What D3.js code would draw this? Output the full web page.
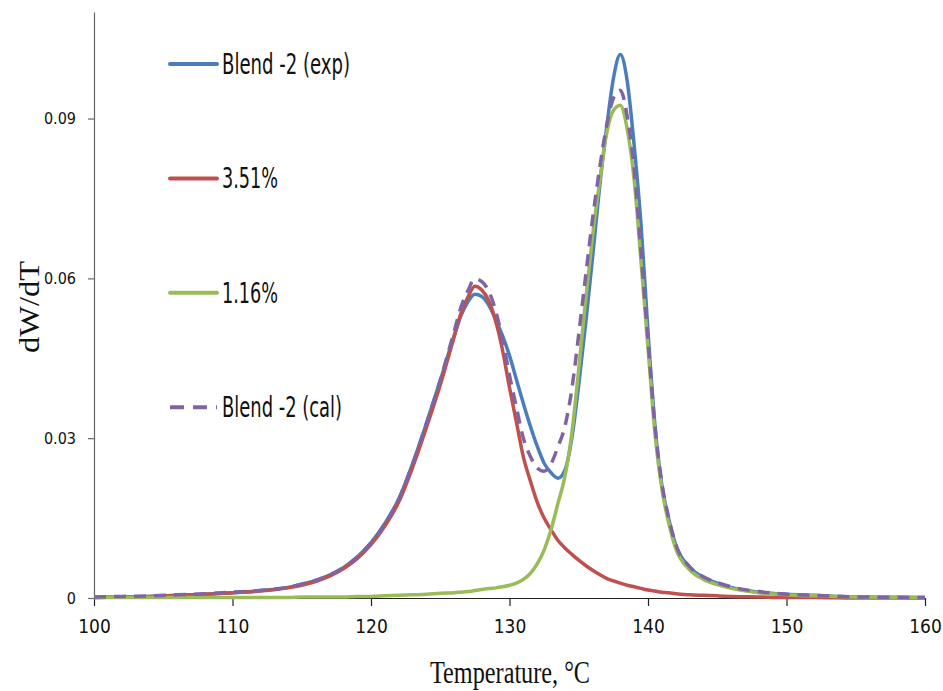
<!DOCTYPE html>
<html>
<head>
<meta charset="utf-8">
<script src="https://cdn.jsdelivr.net/npm/d3@7"></script>
<style>
  html, body { margin: 0; padding: 0; background: #fff; }
  svg { display: block; }
</style>
</head>
<body>
<svg id="chart" width="943" height="691"></svg>
<script>
// ---------- DATA ----------
const temperature = [100,102,104,106,108,110,112,114,115,116,117,118,119,120,121,122,123,124,125,126,
  126.5,127,127.5,128,128.5,129,129.5,130,130.5,131,131.5,132,132.5,133,133.5,134,134.5,135,135.5,136,
  136.5,137,137.5,138,138.5,139,139.5,140,140.5,141,141.5,142,143,144,145,146,148,150,152,155,160];

const blendExp = [0.0001,0.0002,0.0003,0.0005,0.0007,0.0010,0.0014,0.0020,
  0.0026,0.0033,0.0043,0.0057,0.0077,0.0104,0.0140,0.0186,0.0252,0.0328,0.0408,0.0492,
  0.0530,0.0556,0.0570,0.0566,0.0550,0.0523,0.0492,0.0455,0.0410,0.0365,0.0323,0.0285,0.0253,0.0235,0.0225,0.0240,
  0.0300,0.0400,0.0515,0.0640,0.0770,0.0880,0.0975,0.1020,0.0970,0.0850,0.0700,0.0500,0.0325,0.0212,0.0148,0.0100,
  0.0058,0.0039,0.0028,0.0020,0.0011,0.0007,0.0005,0.0002,0.0001];

const pct351 = [0.0001,0.0002,0.0003,0.0005,0.0007,0.0010,0.0013,0.0019,
  0.0024,0.0031,0.0041,0.0055,0.0074,0.0100,0.0135,0.0180,0.0245,0.0320,0.0400,0.0490,
  0.0535,0.0565,0.0585,0.0578,0.0558,0.0520,0.0465,0.0395,0.0330,0.0265,0.0220,0.0180,0.0150,0.0128,0.0108,0.0094,
  0.0082,0.0071,0.0061,0.0052,0.0044,0.0037,0.0032,0.0028,0.0024,0.0021,0.0018,0.0015,0.0013,0.0011,0.0010,0.0008,
  0.0006,0.0005,0.0004,0.0003,0.0002,0.0001,0.0001,0.0000,0.0000];

const pct116 = [0.0001,0.0001,0.0001,0.0001,0.0001,0.0001,0.0001,0.0001,
  0.0002,0.0002,0.0002,0.0002,0.0003,0.0003,0.0004,0.0005,0.0006,0.0007,0.0009,0.0010,
  0.0011,0.0012,0.0014,0.0016,0.0018,0.0019,0.0021,0.0024,0.0028,0.0035,0.0046,0.0064,0.0090,0.0128,0.0178,0.0228,
  0.0310,0.0430,0.0560,0.0680,0.0780,0.0870,0.0915,0.0925,0.0880,0.0785,0.0630,0.0470,0.0310,0.0205,0.0140,0.0093,
  0.0053,0.0035,0.0025,0.0018,0.0010,0.0006,0.0004,0.0002,0.0001];

const blendCal = [0.0002,0.0003,0.0004,0.0006,0.0008,0.0011,0.0014,0.0020,
  0.0026,0.0033,0.0043,0.0057,0.0077,0.0103,0.0139,0.0185,0.0251,0.0327,0.0409,0.0500,
  0.0546,0.0577,0.0599,0.0594,0.0576,0.0539,0.0485,0.0418,0.0358,0.0300,0.0266,0.0244,0.0238,0.0252,0.0284,0.0322,
  0.0392,0.0495,0.0605,0.0712,0.0805,0.0885,0.0938,0.0953,0.0904,0.0806,0.0648,0.0485,0.0323,0.0216,0.0150,0.0101,
  0.0059,0.0040,0.0029,0.0021,0.0012,0.0007,0.0005,0.0002,0.0001];

const seriesNames = ["Blend -2 (exp)", "3.51%", "1.16%", "Blend -2 (cal)"];
const xTicks = [100,110,120,130,140,150,160];
const yTicks = [0,0.03,0.06,0.09];
const xDomain = [100,160];
const yDomain = [0,0.11];
const xTitle = "Temperature, \u00B0C";
const yTitle = "dW/dT";

// ---------- STYLE / LAYOUT ----------
const colors = ["#4a7ebb", "#c0504d", "#9bbb59", "#8064a2"];
const dashes = [null, null, null, "12,8"];
const seriesValues = [blendExp, pct351, pct116, blendCal];
const sansFont = "'Liberation Sans Narrow','Arial Narrow','DejaVu Sans Condensed',sans-serif";
const serifFont = "'Liberation Serif','Times New Roman',serif";

const svg = d3.select("#chart");
svg.append("rect").attr("width", 943).attr("height", 691).attr("fill", "#fff");

const x = d3.scaleLinear().domain(xDomain).range([94, 925]);
const y = d3.scaleLinear().domain(yDomain).range([598, 12]);

// axes
const xAxis = d3.axisBottom(x).tickValues(xTicks).tickFormat(d3.format("d"))
  .tickSize(8).tickSizeOuter(0).tickPadding(14);
const gx = svg.append("g").attr("transform", "translate(0,598)").call(xAxis);
gx.select(".domain").attr("stroke", "#222").attr("stroke-width", 1.2);
gx.selectAll(".tick line").attr("stroke", "#222").attr("stroke-width", 1.2);
gx.selectAll(".tick text").attr("font-family", sansFont).attr("font-size", 19).attr("fill", "#111");

const yAxis = d3.axisLeft(y).tickValues(yTicks).tickFormat(d => d === 0 ? "0" : d3.format(".2f")(d))
  .tickSize(6).tickSizeOuter(0).tickPadding(12);
const gy = svg.append("g").attr("transform", "translate(94,0)").call(yAxis);
gy.select(".domain").attr("stroke", "#666").attr("stroke-width", 1.2);
gy.selectAll(".tick line").attr("stroke", "#666").attr("stroke-width", 1.2);
gy.selectAll(".tick text").attr("font-family", sansFont).attr("font-size", 16).attr("fill", "#111");

// lines
const line = d3.line().x(d => x(d[0])).y(d => y(d[1])).curve(d3.curveMonotoneX);
seriesValues.forEach((vals, i) => {
  const pts = temperature.map((t, k) => [t, vals[k]]);
  svg.append("path").datum(pts)
    .attr("d", line)
    .attr("fill", "none")
    .attr("stroke", colors[i])
    .attr("stroke-width", 3.5)
    .attr("stroke-linejoin", "round")
    .attr("stroke-dasharray", dashes[i]);
});

// legend
const legendWidths = [128, 56, 56, 120];
seriesNames.forEach((name, i) => {
  const ly = 64 + i * 114.4;
  svg.append("line")
    .attr("x1", 170).attr("x2", 217).attr("y1", ly).attr("y2", ly)
    .attr("stroke", colors[i]).attr("stroke-width", 4)
    .attr("stroke-dasharray", dashes[i] ? "14,9" : null)
    .attr("stroke-linecap", dashes[i] ? "butt" : "round");
  svg.append("text")
    .attr("x", 222).attr("y", ly + 10)
    .attr("font-family", sansFont).attr("font-size", 28).attr("fill", "#111")
    .attr("textLength", legendWidths[i]).attr("lengthAdjust", "spacingAndGlyphs")
    .text(name);
});

// titles
svg.append("text")
  .attr("x", 430).attr("y", 683)
  .attr("font-family", serifFont).attr("font-size", 31).attr("fill", "#111")
  .attr("textLength", 160).attr("lengthAdjust", "spacingAndGlyphs")
  .text(xTitle);

svg.append("text")
  .attr("transform", "translate(39,307) rotate(-90)")
  .attr("text-anchor", "middle")
  .attr("font-family", serifFont).attr("font-size", 29).attr("fill", "#111")
  .attr("textLength", 92).attr("lengthAdjust", "spacingAndGlyphs")
  .text(yTitle);
</script>
</body>
</html>
